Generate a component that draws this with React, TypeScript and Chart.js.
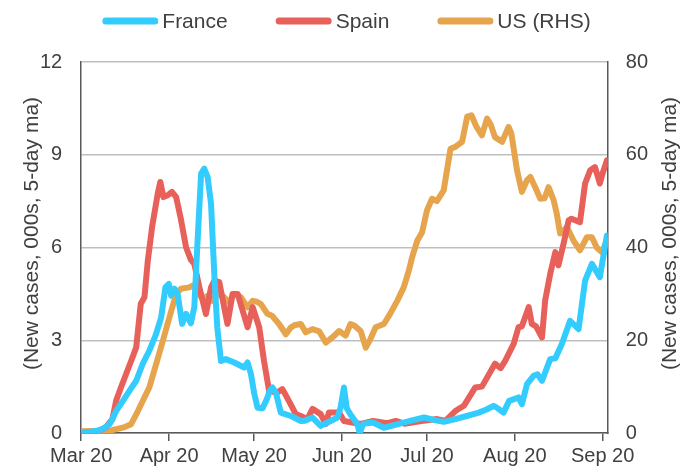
import React, { useEffect, useRef } from 'react';
import { Chart, registerables } from 'chart.js';

Chart.register(...registerables);

const FONT = '"Liberation Sans", Arial, sans-serif';
const TEXT_COLOR = '#404040';

const monthTickDays = [0, 31, 61, 92, 122, 153, 184];
const monthTickLabels = ['Mar 20', 'Apr 20', 'May 20', 'Jun 20', 'Jul 20', 'Aug 20', 'Sep 20'];

const franceDays = [0, 3, 6, 8, 10, 11, 12.3, 14.7, 17, 19.4, 21.7, 24, 26.4, 28.2, 29.7, 30.9, 31.7, 32.9, 34, 35.6, 37, 38.7, 39.9, 41, 42.3, 43.4, 44.6, 45.8, 47, 48, 49.3, 51, 54, 57.5, 58.7, 59.9, 61, 62.2, 64, 65.5, 66.5, 67.5, 68.7, 70.4, 74, 77.5, 79, 81.6, 84.5, 88, 90.4, 91.5, 92.7, 93.7, 95, 97.4, 98.3, 99.5, 103, 106.8, 111.5, 116, 121, 125.6, 128, 132, 136, 140.3, 143, 145.5, 147, 149, 151, 154.3, 155.5, 157.3, 159.6, 161, 162.6, 165.5, 167.3, 169.6, 172.5, 175.5, 177.8, 180.2, 183, 185.5];
const franceCases = [0, 0.03, 0.08, 0.15, 0.29, 0.45, 0.71, 1.04, 1.36, 1.69, 2.24, 2.66, 3.2, 3.74, 4.71, 4.82, 4.44, 4.67, 4.5, 3.53, 3.85, 3.55, 4.07, 6.12, 8.39, 8.55, 8.28, 7.42, 5.04, 3.42, 2.33, 2.39, 2.28, 2.12, 2.28, 1.9, 1.3, 0.82, 0.8, 1.1, 1.36, 1.47, 1.3, 0.66, 0.55, 0.39, 0.4, 0.5, 0.23, 0.39, 0.5, 0.82, 1.47, 0.8, 0.6, 0.29, 0.0, 0.3, 0.34, 0.17, 0.28, 0.39, 0.5, 0.4, 0.36, 0.45, 0.55, 0.66, 0.76, 0.88, 0.8, 0.66, 1.04, 1.15, 0.93, 1.58, 1.85, 1.9, 1.69, 2.39, 2.42, 2.88, 3.63, 3.36, 4.93, 5.47, 5.04, 6.39];

const spainDays = [0, 4, 7, 8.8, 11, 12.3, 14, 15.8, 17.6, 19.4, 21, 22.3, 23.5, 25, 27, 27.9, 29, 30.5, 32, 33.5, 35.2, 37, 38.7, 39.9, 41.7, 44, 45.8, 47, 48.7, 51.6, 53.4, 55.2, 58.7, 60.5, 62.8, 64.5, 66.3, 69.2, 71, 73.5, 75.7, 77.5, 79.8, 81.6, 84.5, 86.3, 87.4, 91, 92.7, 98.6, 103, 108, 111, 114, 120, 125.6, 128.5, 132, 135, 139, 141.4, 146, 148, 149.6, 152.6, 154.3, 155.5, 157.9, 159, 160.5, 162.6, 163.7, 165.5, 167.3, 168.4, 170.2, 172, 173, 176, 177.8, 179.6, 181.3, 183, 184, 185.5];
const spainCases = [0, 0.03, 0.1, 0.2, 0.45, 1.04, 1.47, 1.9, 2.33, 2.77, 4.18, 4.39, 5.58, 6.66, 7.75, 8.12, 7.63, 7.69, 7.8, 7.63, 6.9, 6.0, 5.6, 5.47, 4.71, 3.85, 4.71, 4.93, 4.88, 3.53, 4.5, 4.5, 3.42, 4.07, 3.42, 2.33, 1.36, 1.31, 1.42, 1.0, 0.61, 0.55, 0.45, 0.78, 0.61, 0.29, 0.66, 0.66, 0.39, 0.29, 0.39, 0.32, 0.39, 0.3, 0.39, 0.45, 0.39, 0.71, 0.88, 1.47, 1.5, 2.24, 2.1, 2.33, 2.88, 3.42, 3.45, 4.07, 3.53, 3.45, 3.09, 4.28, 5.15, 5.85, 5.42, 6.12, 6.88, 6.93, 6.82, 8.07, 8.5, 8.6, 8.07, 8.4, 8.82];

const usDays = [0, 10, 14.7, 17.6, 19.4, 21.7, 24, 26.4, 28.8, 31.1, 33.5, 35.2, 38.1, 39.3, 40.5, 42.8, 44.6, 46.4, 48.1, 50, 52.2, 54, 56.3, 58.7, 60.5, 62, 63.4, 65.7, 67.3, 69.8, 72.2, 74, 75.5, 77.5, 79.2, 81.6, 84, 86.3, 88.6, 91, 93.3, 95, 96.5, 98.6, 100.4, 102, 103.9, 106.8, 109, 111.5, 113.8, 115.6, 116.8, 118.6, 120.3, 122, 123.8, 125.5, 127.9, 130.3, 132, 134.4, 136.2, 137.7, 139.5, 141.4, 143.2, 144.5, 146, 148.5, 150.8, 151.8, 153.8, 155.5, 157.3, 158.5, 160.2, 162, 163.5, 164.9, 166.7, 167.8, 169, 171.4, 173.7, 176, 178.4, 180.2, 181.9, 183.7, 185.5];
const usCases = [0.4, 0.5, 1.15, 1.9, 4.0, 6.9, 9.8, 14.8, 19.9, 24.9, 30, 31.1, 31.4, 31.8, 31.0, 28.9, 29.6, 28.5, 30, 29.5, 28.2, 30, 29.3, 27.1, 28.5, 28.3, 27.8, 25.7, 25.3, 23.5, 21.3, 22.8, 23.3, 23.5, 21.7, 22.4, 21.9, 19.5, 20.6, 22, 21, 23.5, 23.1, 22, 18.4, 20.2, 22.8, 23.5, 25.7, 28.5, 31.4, 35, 38, 41.5, 43.3, 48, 50.5, 50, 52.3, 61.3, 61.7, 62.8, 68.2, 68.5, 66, 64.2, 67.8, 66.5, 63.8, 62.8, 66, 64.5, 56.6, 52, 54.5, 55.2, 53, 50.5, 50.6, 53, 50.2, 47.3, 43, 44.4, 41.5, 39.4, 42.2, 42.2, 40, 39, 41.5];

const seriesLabels = ['France', 'Spain', 'US (RHS)'];
const seriesColors = ['#33CCFF', '#E8605A', '#E6A44C'];
const axisTitle = '(New cases, 000s, 5-day ma)';

const toPoints = (xs: number[], ys: number[]) => xs.map((x, i) => ({ x, y: ys[i] }));

const overlayPlugin = {
  id: 'overlay',
  afterDraw(chart: any) {
    const ctx = chart.ctx as CanvasRenderingContext2D;
    const area = chart.chartArea;
    ctx.save();
    // legend
    ctx.font = `21px ${FONT}`;
    ctx.textBaseline = 'middle';
    ctx.textAlign = 'left';
    const sample = 56;
    const gap = 4;
    const spacing = 48;
    const items = chart.data.datasets.map((ds: any) => ({
      text: ds.label as string,
      color: ds.borderColor as string,
      w: ctx.measureText(ds.label).width,
    }));
    const total = items.reduce((s: number, it: any) => s + sample + gap + it.w, 0) + spacing * (items.length - 1);
    let x = (area.left + area.right) / 2 + 2 - total / 2;
    const y = 21;
    items.forEach((it: any) => {
      ctx.strokeStyle = it.color;
      ctx.lineWidth = 7;
      ctx.lineCap = 'round';
      ctx.beginPath();
      ctx.moveTo(x + 3.5, y);
      ctx.lineTo(x + sample - 3.5, y);
      ctx.stroke();
      ctx.fillStyle = TEXT_COLOR;
      ctx.fillText(it.text, x + sample + gap, y + 1);
      x += sample + gap + it.w + spacing;
    });
    // axis titles
    ctx.font = `21px ${FONT}`;
    ctx.textAlign = 'center';
    ctx.fillStyle = TEXT_COLOR;
    const cy = (area.top + area.bottom) / 2 - 14;
    [32, 670].forEach((tx) => {
      ctx.save();
      ctx.translate(tx, cy);
      ctx.rotate(-Math.PI / 2);
      ctx.fillText(axisTitle, 0, 0);
      ctx.restore();
    });
    ctx.restore();
  },
};

export default function App() {
  const canvasRef = useRef<HTMLCanvasElement | null>(null);

  useEffect(() => {
    document.body.style.margin = '0';
    const canvas = canvasRef.current;
    if (!canvas) return;
    const chart = new Chart(canvas, {
      type: 'line',
      data: {
        datasets: [
          {
            label: seriesLabels[0],
            data: toPoints(franceDays, franceCases),
            borderColor: seriesColors[0],
            yAxisID: 'y',
          },
          {
            label: seriesLabels[1],
            data: toPoints(spainDays, spainCases),
            borderColor: seriesColors[1],
            yAxisID: 'y',
          },
          {
            label: seriesLabels[2],
            data: toPoints(usDays, usCases),
            borderColor: seriesColors[2],
            yAxisID: 'y1',
          },
        ] as any,
      },
      options: {
        responsive: false,
        animation: false,
        devicePixelRatio: 1,
        layout: { padding: { top: 62, left: 21, right: 14, bottom: 0 } },
        elements: {
          line: { borderWidth: 6, tension: 0, borderJoinStyle: 'round', borderCapStyle: 'round', fill: false },
          point: { radius: 0, hoverRadius: 0 },
        },
        plugins: {
          legend: { display: false },
          tooltip: { enabled: false },
        },
        scales: {
          x: {
            type: 'linear',
            min: 0,
            max: 185.8,
            afterBuildTicks: (scale: any) => {
              scale.ticks = monthTickDays.map((v) => ({ value: v }));
            },
            ticks: {
              autoSkip: false,
              maxRotation: 0,
              padding: 3,
              color: TEXT_COLOR,
              font: { family: FONT, size: 20 },
              callback: (value: any) => {
                const i = monthTickDays.indexOf(Number(value));
                return i >= 0 ? monthTickLabels[i] : '';
              },
            },
            grid: { display: true, drawOnChartArea: false, drawTicks: true, tickLength: 8, color: '#595959', lineWidth: 1.5 },
            border: { display: true, color: '#595959', width: 1.5 },
          },
          y: {
            position: 'left',
            min: 0,
            max: 12,
            ticks: { stepSize: 3, padding: 19, color: TEXT_COLOR, font: { family: FONT, size: 20 } },
            grid: { color: '#BFBFBF', lineWidth: 1.5, drawTicks: false },
            border: { display: true, color: '#595959', width: 1.5 },
          },
          y1: {
            position: 'right',
            min: 0,
            max: 80,
            ticks: { stepSize: 20, padding: 18, color: TEXT_COLOR, font: { family: FONT, size: 20 } },
            grid: { drawOnChartArea: false, drawTicks: false },
            border: { display: true, color: '#595959', width: 1.5 },
          },
        },
      } as any,
      plugins: [overlayPlugin],
    });
    return () => chart.destroy();
  }, []);

  return (
    <div style={{ position: 'absolute', left: 0, top: 0, width: 680, height: 471 }}>
      <canvas ref={canvasRef} width={680} height={471} style={{ display: 'block' }} />
    </div>
  );
}
